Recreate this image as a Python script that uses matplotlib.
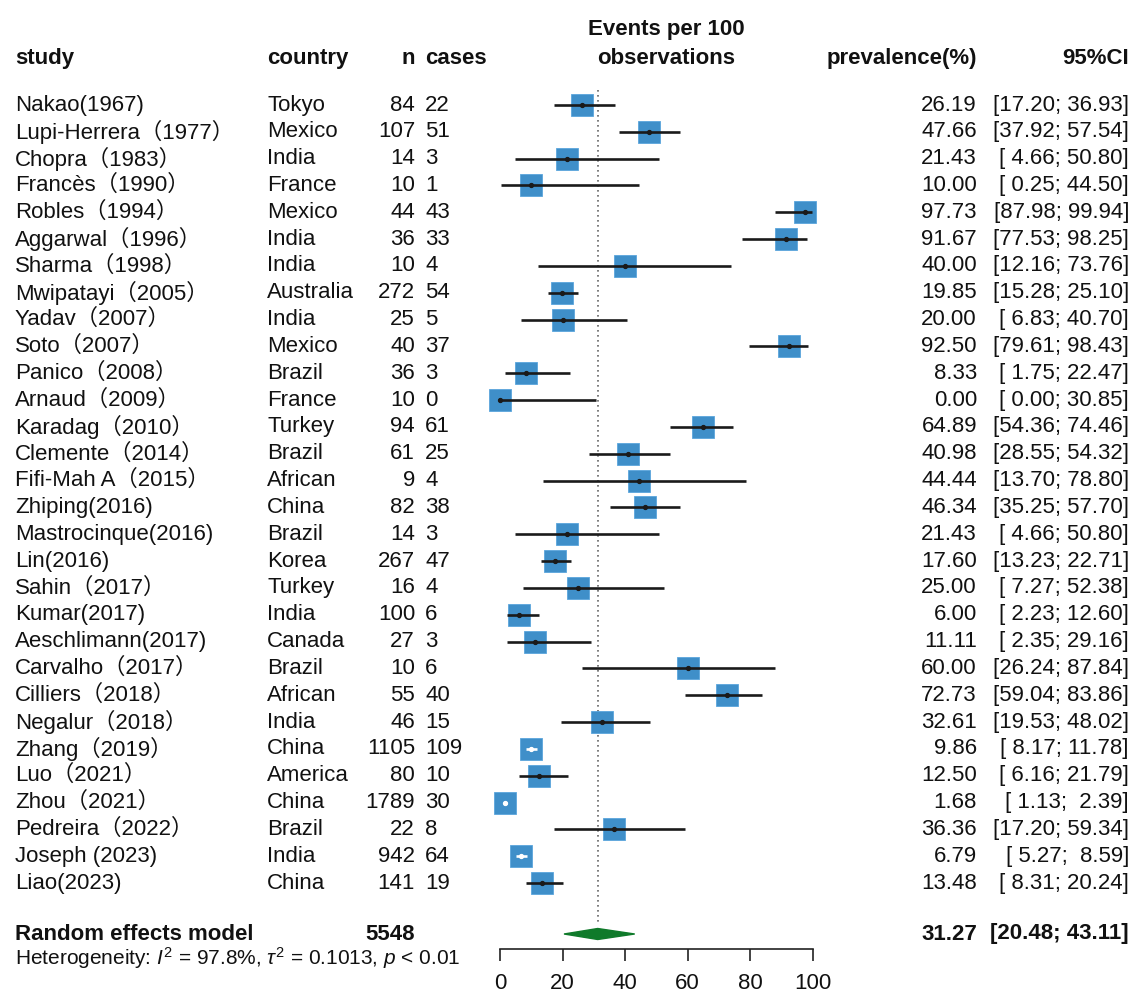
import matplotlib
matplotlib.use("Agg")
import matplotlib.pyplot as plt
from matplotlib import transforms
from matplotlib.patches import Polygon

plt.rcParams['font.family'] = ['Liberation Sans', 'Noto Sans CJK SC']
plt.rcParams['mathtext.fontset'] = 'custom'
plt.rcParams['mathtext.rm'] = 'Liberation Sans'
plt.rcParams['mathtext.it'] = 'Liberation Sans:italic'

# ---- data -------------------------------------------------------------
studies = ["Nakao(1967)", "Lupi-Herrera（1977）", "Chopra（1983）", "Francès（1990）",
           "Robles（1994）", "Aggarwal（1996）", "Sharma（1998）", "Mwipatayi（2005）",
           "Yadav（2007）", "Soto（2007）", "Panico（2008）", "Arnaud（2009）",
           "Karadag（2010）", "Clemente（2014）", "Fifi-Mah A（2015）", "Zhiping(2016)",
           "Mastrocinque(2016)", "Lin(2016)", "Sahin（2017）", "Kumar(2017)",
           "Aeschlimann(2017)", "Carvalho（2017）", "Cilliers（2018）", "Negalur（2018）",
           "Zhang（2019）", "Luo（2021）", "Zhou（2021）", "Pedreira（2022）",
           "Joseph (2023)", "Liao(2023)"]
countries = ["Tokyo", "Mexico", "India", "France", "Mexico", "India", "India", "Australia",
             "India", "Mexico", "Brazil", "France", "Turkey", "Brazil", "African", "China",
             "Brazil", "Korea", "Turkey", "India", "Canada", "Brazil", "African", "India",
             "China", "America", "China", "Brazil", "India", "China"]
n_total = [84, 107, 14, 10, 44, 36, 10, 272, 25, 40, 36, 10, 94, 61, 9, 82, 14, 267, 16,
           100, 27, 10, 55, 46, 1105, 80, 1789, 22, 942, 141]
n_cases = [22, 51, 3, 1, 43, 33, 4, 54, 5, 37, 3, 0, 61, 25, 4, 38, 3, 47, 4, 6, 3, 6, 40,
           15, 109, 10, 30, 8, 64, 19]
prevalence = [26.19, 47.66, 21.43, 10.00, 97.73, 91.67, 40.00, 19.85, 20.00, 92.50, 8.33,
              0.00, 64.89, 40.98, 44.44, 46.34, 21.43, 17.60, 25.00, 6.00, 11.11, 60.00,
              72.73, 32.61, 9.86, 12.50, 1.68, 36.36, 6.79, 13.48]
ci_low = [17.20, 37.92, 4.66, 0.25, 87.98, 77.53, 12.16, 15.28, 6.83, 79.61, 1.75, 0.00,
          54.36, 28.55, 13.70, 35.25, 4.66, 13.23, 7.27, 2.23, 2.35, 26.24, 59.04, 19.53,
          8.17, 6.16, 1.13, 17.20, 5.27, 8.31]
ci_high = [36.93, 57.54, 50.80, 44.50, 99.94, 98.25, 73.76, 25.10, 40.70, 98.43, 22.47,
           30.85, 74.46, 54.32, 78.80, 57.70, 50.80, 22.71, 52.38, 12.60, 29.16, 87.84,
           83.86, 48.02, 11.78, 21.79, 2.39, 59.34, 8.59, 20.24]
pooled_n = 5548
pooled_est, pooled_low, pooled_high = 31.27, 20.48, 43.11
heterogeneity = r"Heterogeneity: $I^2$ = 97.8%, $\tau^2$ = 0.1013, $p$ < 0.01"
x_ticks = [0, 20, 40, 60, 80, 100]

# ---- layout -----------------------------------------------------------
W, H = 1133, 1000
fig = plt.figure(figsize=(W / 100, H / 100), dpi=100)

row0_px, row_step_px = 105, 26.83
ax_left_px, ax_right_px = 500, 812.5
ax_top_px, ax_bottom_px = 75, 949


def row_of(px):
    return (px - row0_px) / row_step_px


ax = fig.add_axes([ax_left_px / W, 1 - ax_bottom_px / H,
                   (ax_right_px - ax_left_px) / W, (ax_bottom_px - ax_top_px) / H])
ax.set_xlim(0, 100)
ax.set_ylim(row_of(ax_bottom_px), row_of(ax_top_px))

FS = 16
box_color = "#3f8fc9"
box_px = 22
half_box_x = (box_px / 2) / ((ax_right_px - ax_left_px) / 100)

rows = list(range(len(studies)))
pooled_row = row_of(934)

# reference line at pooled estimate
ax.plot([pooled_est, pooled_est], [-0.55, 30.56], color="#666666", lw=1.2,
        ls=(0, (1, 2.0)), zorder=1)

for i in rows:
    est, lo, hi = prevalence[i], ci_low[i], ci_high[i]
    ax.plot(est, i, marker="s", ms=box_px * 0.72, color=box_color, mec="#5aa5dc",
            mew=0.6, zorder=2, clip_on=False)
    inside = (lo >= est - half_box_x) and (hi <= est + half_box_x)
    lc = "white" if inside else "#1a1a1a"
    ax.plot([lo, hi], [i, i], color=lc, lw=1.9, zorder=3, solid_capstyle="butt",
            clip_on=False)
    ax.plot(est, i, marker="o", ms=2.8, color=lc, zorder=4, clip_on=False)

# pooled diamond
dh = 5.5 / row_step_px
ax.add_patch(Polygon([[pooled_low, pooled_row], [pooled_est, pooled_row - dh],
                      [pooled_high, pooled_row], [pooled_est, pooled_row + dh]],
                     closed=True, facecolor="#0f7a2a", edgecolor="#0f7a2a", zorder=3))

# axis styling
for s in ("left", "top", "right"):
    ax.spines[s].set_visible(False)
ax.spines["bottom"].set_bounds(0, 100)
ax.spines["bottom"].set_linewidth(1.2)
ax.spines["bottom"].set_color("#222222")
ax.set_yticks([])
ax.set_xticks(x_ticks)
ax.set_xticklabels([str(t) for t in x_ticks])
ax.tick_params(axis="x", direction="out", length=8.5, width=1.2, color="#222222",
               labelsize=FS, pad=9, labelcolor="#111111")
ax.patch.set_alpha(0)

# ---- text columns -----------------------------------------------------
tr = transforms.blended_transform_factory(fig.transFigure, ax.transData)
x_study, x_country, x_n, x_cases = 15 / W, 267 / W, 415 / W, 425 / W
x_prev, x_ci = 977 / W, 1129 / W
txt = dict(transform=tr, fontsize=FS, va="center", color="#111111")

head_row = row_of(58)
ax.text(x_study, head_row, "study", ha="left", weight="bold", **txt)
ax.text(x_country, head_row, "country", ha="left", weight="bold", **txt)
ax.text(x_n, head_row, "n", ha="right", weight="bold", **txt)
ax.text(x_cases, head_row, "cases", ha="left", weight="bold", **txt)
ax.text(666 / W, row_of(29), "Events per 100", ha="center", weight="bold", **txt)
ax.text(666 / W, head_row, "observations", ha="center", weight="bold", **txt)
ax.text(x_prev, head_row, "prevalence(%)", ha="right", weight="bold", **txt)
ax.text(x_ci, head_row, "95%CI", ha="right", weight="bold", **txt)

for i in rows:
    ax.text(x_study, i, studies[i], ha="left", **txt)
    ax.text(x_country, i, countries[i], ha="left", **txt)
    ax.text(x_n, i, str(n_total[i]), ha="right", **txt)
    ax.text(x_cases, i, str(n_cases[i]), ha="left", **txt)
    ax.text(x_prev, i, f"{prevalence[i]:.2f}", ha="right", **txt)
    ax.text(x_ci, i, f"[{ci_low[i]:5.2f}; {ci_high[i]:5.2f}]", ha="right", **txt)

ax.text(x_study, pooled_row, "Random effects model", ha="left", weight="bold", **txt)
ax.text(x_n, pooled_row, str(pooled_n), ha="right", weight="bold", **txt)
ax.text(x_prev, pooled_row, f"{pooled_est:.2f}", ha="right", weight="bold", **txt)
ax.text(x_ci, pooled_row, f"[{pooled_low:5.2f}; {pooled_high:5.2f}]", ha="right",
        weight="bold", **txt)
ax.text(x_study, row_of(958), heterogeneity, ha="left", transform=tr, fontsize=15,
        va="center", color="#111111")

fig.savefig("out.png", dpi=100, facecolor="white")
